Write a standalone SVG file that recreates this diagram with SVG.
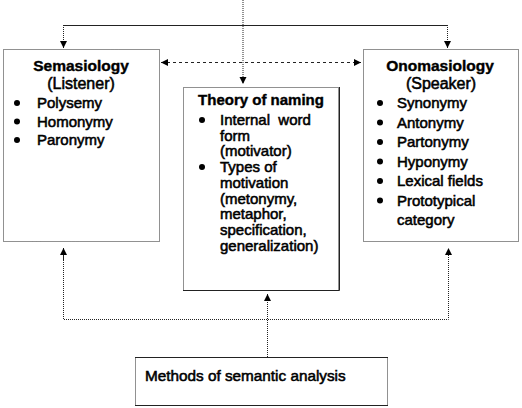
<svg xmlns="http://www.w3.org/2000/svg" width="522" height="408" viewBox="0 0 522 408">
<style>
  .box{fill:#fff;stroke:#222;stroke-width:1;stroke-dasharray:1 1}
  .solid{stroke:#222;stroke-width:1;fill:none}
  .dot{stroke:#222;stroke-width:1;fill:none;stroke-dasharray:1 1}
  .dash{stroke:#222;stroke-width:1;fill:none;stroke-dasharray:3 3}
  text{font-family:"Liberation Sans",Arial,sans-serif;fill:#000}
  .t{font-size:15.5px;font-weight:bold;text-anchor:middle;stroke:#000;stroke-width:0.4}
  .s{font-size:16px;text-anchor:middle;stroke:#000;stroke-width:0.55}
  .i{font-size:15px;stroke:#000;stroke-width:0.55}
  .b{fill:#000}
</style>
<defs>
  <marker id="ah" markerUnits="userSpaceOnUse" markerWidth="8" markerHeight="8" refX="7" refY="4" orient="auto-start-reverse">
    <path d="M0,0.5 L7,4 L0,7.5 Z" fill="#000"/>
  </marker>
</defs>
<rect width="522" height="408" fill="#fff"/>
<g id="connectors">
  <line class="dot" x1="243" y1="0" x2="243" y2="84" marker-end="url(#ah)"/>
  <line class="solid" x1="63" y1="25.5" x2="447" y2="25.5"/>
  <line class="dot" x1="63.5" y1="25" x2="63.5" y2="48" marker-end="url(#ah)"/>
  <line class="dot" x1="447.5" y1="25" x2="447.5" y2="48" marker-end="url(#ah)"/>
  <line class="dash" x1="161" y1="62.5" x2="361" y2="62.5" marker-start="url(#ah)" marker-end="url(#ah)"/>
  <line class="dot" x1="267.5" y1="357" x2="267.5" y2="294" marker-end="url(#ah)"/>
  <polyline class="dot" points="63.5,248 63.5,319.5 448.5,319.5 448.5,248"/>
  <line class="dot" x1="63.5" y1="260" x2="63.5" y2="248" marker-end="url(#ah)"/>
  <line class="dot" x1="448.5" y1="260" x2="448.5" y2="248" marker-end="url(#ah)"/>
</g>
<g id="semasiology">
  <rect class="box" x="3.5" y="49.5" width="156" height="192"/>
  <text class="t" x="81" y="71">Semasiology</text>
  <text class="s" x="81" y="89">(Listener)</text>
  <circle class="b" cx="17" cy="103" r="3"/>
  <text class="i" x="37" y="108">Polysemy</text>
  <circle class="b" cx="17" cy="121.5" r="3"/>
  <text class="i" x="37" y="126.5">Homonymy</text>
  <circle class="b" cx="17" cy="140" r="3"/>
  <text class="i" x="37" y="145">Paronymy</text>
</g>
<g id="onomasiology">
  <rect class="box" x="363.5" y="49.5" width="155" height="192"/>
  <text class="t" x="440" y="71">Onomasiology</text>
  <text class="s" x="441" y="89">(Speaker)</text>
  <circle class="b" cx="380" cy="103" r="3"/>
  <text class="i" x="397" y="108">Synonymy</text>
  <circle class="b" cx="380" cy="122.5" r="3"/>
  <text class="i" x="397" y="127.5">Antonymy</text>
  <circle class="b" cx="380" cy="142" r="3"/>
  <text class="i" x="397" y="147">Partonymy</text>
  <circle class="b" cx="380" cy="161.5" r="3"/>
  <text class="i" x="397" y="166.5">Hyponymy</text>
  <circle class="b" cx="380" cy="181" r="3"/>
  <text class="i" x="397" y="186">Lexical fields</text>
  <circle class="b" cx="380" cy="200.5" r="3"/>
  <text class="i" x="397" y="205.5">Prototypical</text>
  <text class="i" x="397" y="225">category</text>
</g>
<g id="theory">
  <rect class="box" x="183.5" y="87.5" width="155" height="203"/>
  <path class="solid" d="M183,290.5 H339.5 V87" stroke="#555"/>
  <text class="t" x="261" y="105" style="font-size:15px">Theory of naming</text>
  <circle class="b" cx="202" cy="120" r="3"/>
  <text class="i" x="220" y="125" xml:space="preserve">Internal  word</text>
  <text class="i" x="220" y="140.7">form</text>
  <text class="i" x="220" y="156.4">(motivator)</text>
  <circle class="b" cx="202" cy="167" r="3"/>
  <text class="i" x="220" y="172">Types of</text>
  <text class="i" x="220" y="187.8">motivation</text>
  <text class="i" x="220" y="203.5">(metonymy,</text>
  <text class="i" x="220" y="219.2">metaphor,</text>
  <text class="i" x="220" y="234.9">specification,</text>
  <text class="i" x="220" y="250.6">generalization)</text>
</g>
<g id="methods">
  <rect class="box" x="135.5" y="357.5" width="252" height="48"/>
  <path class="solid" d="M135,357.5 H388 M135,405.5 H388"/>
  <text class="i" x="145" y="381" style="font-size:15.3px">Methods of semantic analysis</text>
</g>
</svg>
